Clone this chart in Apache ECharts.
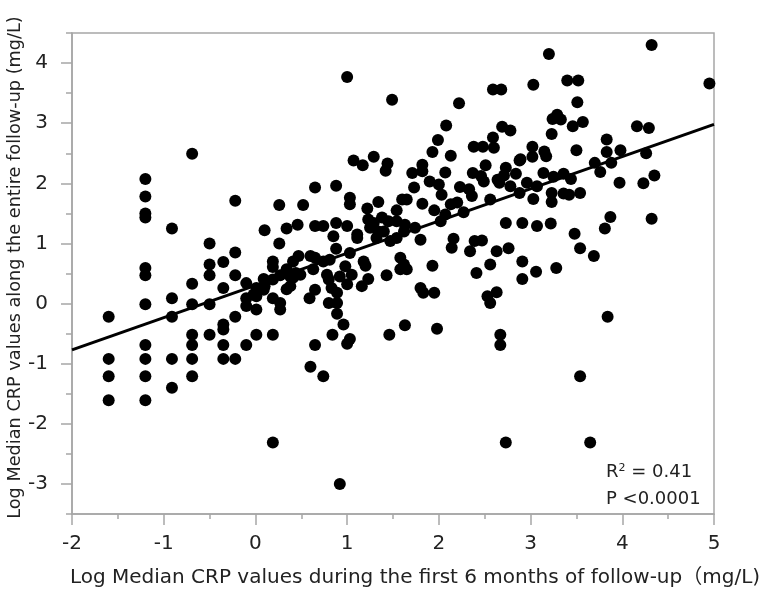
<!DOCTYPE html>
<html>
<head>
<meta charset="utf-8">
<script src="https://cdn.jsdelivr.net/npm/echarts@6/dist/echarts.min.js"></script>
<style>
  html, body { margin: 0; padding: 0; background: #fff; }
  #main { width: 766px; height: 594px; }
</style>
</head>
<body>
<div id="main"></div>
<script>
// log median CRP, first 6 months (x) vs entire follow-up (y)
const firstSixMonths = [
  -0.69, -1.2, -1.2, -1.2, -1.2, -0.22, 0.26, 0.52, -0.91, 0.10,
  0.34, 0.46, -0.5, 0.26, -0.22, -0.5, -0.35, 0.19, 0.19, 0.41,
  0.47, -1.2, -1.2, -0.5, -0.69, -0.22, -0.1, -0.35, 0.09, 0.27,
  0.34, 0.38, 0.44, 0.41, 0.34, 0.01, 0.09, -0.02, -0.1, 0.01,
  0.1, 0.19, -0.1, 0.01, 0.19, 0.27, 0.27, -0.91, -1.2, -0.69,
  -0.5, -1.6, -0.91, -0.22, -0.35, -0.35, -0.69, -0.5, 0.01, 0.19,
  -1.2, -0.69, -0.35, -0.1, -1.6, -1.2, -0.91, -0.69, -0.35, -0.22,
  -1.6, -1.2, -0.69, -0.91, -1.6, -1.2, 0.19, 0.6, 0.74, 0.92,
  2.73, 3.54, 3.65, 3.03, 3.23, 3.23, 3.36, 3.42, 3.54, 2.91,
  3.07, 3.22, 3.48, 3.54, 3.69, 3.81, 3.87, 4.32, 2.91, 2.91,
  3.06, 3.28, 3.84, 3.2, 4.32, 4.95, 3.03, 3.40, 3.52, 3.51,
  3.24, 3.29, 3.33, 3.46, 3.57, 3.23, 4.16, 4.29, 2.89, 3.02,
  3.02, 3.15, 3.17, 3.50, 3.83, 3.83, 3.98, 3.70, 3.88, 3.76,
  4.26, 3.14, 3.25, 3.36, 3.44, 2.96, 3.07, 3.97, 4.23, 4.35,
  1.0, 1.49, 2.22, 2.59, 2.68, 2.08, 2.69, 2.78, 1.99, 2.59,
  2.38, 2.48, 2.60, 1.93, 2.13, 1.07, 1.17, 1.29, 1.44, 1.42,
  1.82, 1.82, 1.71, 2.07, 2.51, 2.37, 2.46, 2.73, 2.71, 2.64,
  2.84, 2.88, 0.65, 0.88, 1.73, 1.90, 2.0, 2.23, 2.33, 2.49,
  2.66, 2.78, 2.88, 2.03, 1.03, 1.34, 1.60, 1.65, 2.56, 2.36,
  1.03, 1.22, 1.54, 1.82, 1.95, 2.13, 2.20, 2.27, 0.65, 0.74,
  0.88, 1.0, 0.85, 1.11, 1.11, 1.23, 1.29, 1.38, 1.45, 1.25,
  1.34, 1.40, 1.54, 1.63, 1.62, 1.74, 1.54, 1.47, 1.32, 1.80,
  2.02, 2.07, 2.73, 2.16, 2.14, 2.39, 2.47, 2.34, 2.63, 2.76,
  0.88, 1.03, 0.60, 0.65, 0.74, 0.81, 0.63, 0.49, 0.38, 0.78,
  0.80, 0.92, 0.98, 1.05, 1.0, 1.18, 1.20, 1.16, 1.23, 1.43,
  1.58, 1.62, 1.65, 1.58, 1.93, 2.56, 2.41, 0.83, 0.89, 0.65,
  0.59, 0.80, 0.89, 0.89, 1.80, 1.83, 1.95, 2.53, 2.56, 2.63,
  0.96, 0.84, 1.03, 1.0, 1.46, 1.63, 1.98, 2.67, 2.67, 0.65
]
const entireFollowUp = [
  2.49, 2.07, 1.78, 1.50, 1.43, 1.71, 1.64, 1.64, 1.25, 1.22,
  1.25, 1.31, 1.0, 1.0, 0.85, 0.65, 0.69, 0.70, 0.61, 0.70,
  0.79, 0.59, 0.47, 0.47, 0.33, 0.47, 0.34, 0.26, 0.41, 0.47,
  0.57, 0.45, 0.51, 0.43, 0.24, 0.26, 0.23, 0.15, 0.09, 0.12,
  0.29, 0.40, -0.04, -0.1, 0.09, 0.01, -0.1, 0.09, -0.01, -0.01,
  -0.01, -0.22, -0.22, -0.22, -0.35, -0.43, -0.52, -0.52, -0.52, -0.52,
  -0.69, -0.69, -0.69, -0.69, -0.92, -0.92, -0.92, -0.92, -0.92, -0.92,
  -1.21, -1.21, -1.21, -1.40, -1.61, -1.61, -2.31, -1.05, -1.21, -3.0,
  -2.31, -1.21, -2.31, 1.74, 1.69, 1.84, 1.83, 1.81, 1.84, 1.34,
  1.29, 1.33, 1.16, 0.92, 0.79, 1.25, 1.44, 1.41, 0.70, 0.41,
  0.53, 0.59, -0.22, 4.15, 4.30, 3.66, 3.64, 3.71, 3.71, 3.35,
  3.07, 3.14, 3.06, 2.95, 3.02, 2.82, 2.95, 2.92, 2.40, 2.61,
  2.44, 2.53, 2.45, 2.55, 2.73, 2.52, 2.55, 2.34, 2.34, 2.19,
  2.50, 2.17, 2.11, 2.16, 2.07, 2.01, 1.95, 2.01, 2.0, 2.13,
  3.77, 3.39, 3.33, 3.56, 3.56, 2.96, 2.94, 2.88, 2.72, 2.76,
  2.61, 2.61, 2.59, 2.52, 2.46, 2.38, 2.30, 2.44, 2.33, 2.21,
  2.31, 2.20, 2.17, 2.18, 2.30, 2.17, 2.12, 2.26, 2.13, 2.06,
  2.16, 2.38, 1.93, 1.96, 1.93, 2.03, 1.98, 1.94, 1.90, 2.03,
  2.01, 1.95, 1.84, 1.81, 1.76, 1.69, 1.73, 1.73, 1.73, 1.79,
  1.65, 1.58, 1.55, 1.66, 1.55, 1.65, 1.68, 1.52, 1.29, 1.29,
  1.34, 1.29, 1.12, 1.15, 1.09, 1.40, 1.34, 1.43, 1.37, 1.26,
  1.20, 1.20, 1.37, 1.31, 1.20, 1.26, 1.09, 1.04, 1.09, 1.06,
  1.37, 1.48, 1.34, 1.08, 0.93, 1.04, 1.05, 0.87, 0.87, 0.92,
  0.91, 0.84, 0.79, 0.76, 0.70, 0.73, 0.57, 0.48, 0.29, 0.48,
  0.40, 0.45, 0.62, 0.48, 0.32, 0.70, 0.63, 0.29, 0.41, 0.47,
  0.76, 0.65, 0.57, 0.57, 0.63, 0.65, 0.51, 0.26, 0.18, 0.23,
  0.09, 0.01, 0.01, -0.17, 0.26, 0.18, 0.18, 0.12, 0.01, 0.19,
  -0.35, -0.52, -0.59, -0.67, -0.52, -0.36, -0.42, -0.52, -0.69, -0.69
]
// regression line end points
const fitX = [-2, 5]
const fitY = [-0.77, 2.98]
// tick labels
const xTicks = [-2, -1, 0, 1, 2, 3, 4, 5]
const yTicks = [-3, -2, -1, 0, 1, 2, 3, 4]
const yHalfTicks = [-3.5, -2.5, -1.5, -0.5, 0.5, 1.5, 2.5, 3.5, 4.5]

const FONT = "'DejaVu Sans', 'Noto Sans CJK JP', sans-serif"
const GREY = '#a6a6a6'

const points = firstSixMonths.map((x, i) => [x, entireFollowUp[i]])
const fitLine = fitX.map((x, i) => [x, fitY[i]])

const chart = echarts.init(document.getElementById('main'))
chart.setOption({
  animation: false,
  textStyle: { fontFamily: FONT },
  grid: {
    left: 72,
    right: 52,
    top: 33,
    bottom: 80,
    outerBoundsMode: 'none',
    containLabel: false,
    show: true,
    borderColor: GREY,
    borderWidth: 1.5,
  },
  xAxis: {
    type: 'value',
    min: -2,
    max: 5,
    interval: 1,
    name: 'Log Median CRP values during the first 6 months of follow-up（mg/L)',
    nameLocation: 'middle',
    nameGap: 54,
    nameMoveOverlap: false,
    nameTextStyle: { fontSize: 20, color: '#222', fontFamily: FONT, padding: [0, 0, 0, 44] },
    axisLine: { onZero: false, lineStyle: { color: GREY, width: 1.5 } },
    axisTick: { length: 11, lineStyle: { color: GREY, width: 1.5 } },
    minorTick: { show: true, splitNumber: 2, length: 5, lineStyle: { color: GREY, width: 1.5 } },
    axisLabel: {
      fontSize: 20,
      color: '#222',
      margin: 20,
      fontFamily: FONT,
      customValues: xTicks,
    },
    splitLine: { show: false },
  },
  yAxis: [
    {
      type: 'value',
      min: -3.5,
      max: 4.5,
      interval: 0.5,
      name: 'Log Median CRP values along the entire follow-up (mg/L)',
      nameLocation: 'middle',
      nameGap: 48,
      nameMoveOverlap: false,
      nameTextStyle: { fontSize: 17.7, color: '#222', fontFamily: FONT, padding: [0, 0, 0, 12] },
      axisLine: { show: true, onZero: false, lineStyle: { color: GREY, width: 1.5 } },
      axisTick: { length: 11, customValues: yTicks, lineStyle: { color: GREY, width: 1.5 } },
      axisLabel: {
        fontSize: 20,
        color: '#222',
        margin: 24,
        fontFamily: FONT,
        customValues: yTicks,
      },
      splitLine: { show: false },
    },
    {
      // short ticks on the half steps
      type: 'value',
      position: 'left',
      min: -3.5,
      max: 4.5,
      interval: 0.5,
      axisLine: { show: false, onZero: false },
      axisTick: { show: true, length: 6, customValues: yHalfTicks, lineStyle: { color: GREY, width: 1.5 } },
      axisLabel: { show: false },
      splitLine: { show: false },
    },
  ],
  graphic: [
    {
      type: 'text',
      left: 606,
      top: 463,
      style: {
        text: '{a|R}{s|2}{a| = 0.41}',
        rich: {
          a: { fontSize: 18, fontFamily: FONT, fill: '#222' },
          s: { fontSize: 11, fontFamily: FONT, fill: '#222', verticalAlign: 'top', padding: [0, 0, 8, 0] },
        },
      },
    },
    {
      type: 'text',
      left: 606,
      top: 490,
      style: { text: 'P <0.0001', fontSize: 18, fontFamily: FONT, fill: '#222' },
    },
  ],
  series: [
    {
      type: 'scatter',
      data: points,
      symbol: 'circle',
      symbolSize: 12,
      itemStyle: { color: '#000', opacity: 1 },
      z: 2,
    },
    {
      type: 'line',
      data: fitLine,
      showSymbol: false,
      symbol: 'none',
      lineStyle: { color: '#000', width: 3 },
      z: 3,
    },
  ],
})
</script>
</body>
</html>
